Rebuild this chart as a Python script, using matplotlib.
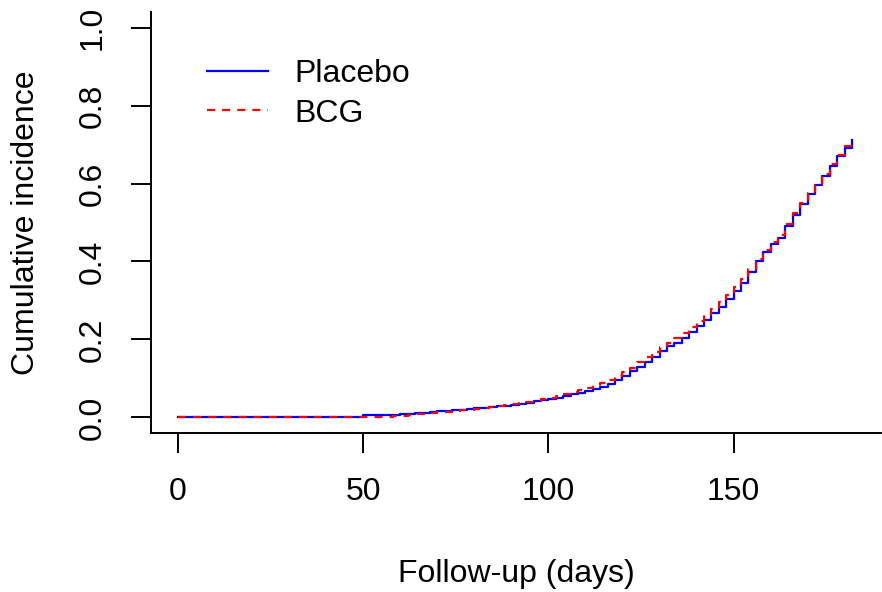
import matplotlib
matplotlib.use("Agg")
import matplotlib.pyplot as plt

# follow-up day at which each cumulative incidence value starts (step function)
days = [0, 50, 52, 54, 56, 58, 60, 62, 64, 66, 68, 70, 72, 74, 76, 78, 80,
        82, 84, 86, 88, 90, 92, 94, 96, 98, 100, 102, 104, 106, 108, 110,
        112, 114, 116, 118, 120, 122, 124, 126, 128, 130, 132, 134, 136,
        138, 140, 142, 144, 146, 148, 150, 152, 154, 156, 158, 160, 162,
        164, 166, 168, 170, 172, 174, 176, 178, 180, 182]

placebo = [0.000, 0.005, 0.005, 0.005, 0.006, 0.007, 0.008, 0.010, 0.011,
           0.012, 0.015, 0.016, 0.017, 0.019, 0.020, 0.021, 0.023, 0.025,
           0.026, 0.028, 0.030, 0.032, 0.035, 0.038, 0.041, 0.044, 0.047,
           0.051, 0.055, 0.059, 0.063, 0.068, 0.073, 0.078, 0.086, 0.095,
           0.106, 0.118, 0.130, 0.143, 0.156, 0.170, 0.182, 0.192, 0.204,
           0.219, 0.235, 0.251, 0.267, 0.284, 0.303, 0.323, 0.345, 0.372,
           0.400, 0.425, 0.445, 0.460, 0.490, 0.520, 0.548, 0.572, 0.595,
           0.620, 0.645, 0.670, 0.692, 0.712]

bcg = [0.000, 0.000, 0.001, 0.001, 0.002, 0.003, 0.004, 0.006, 0.008,
       0.010, 0.011, 0.013, 0.015, 0.017, 0.018, 0.020, 0.022, 0.024,
       0.027, 0.029, 0.031, 0.034, 0.037, 0.040, 0.043, 0.047, 0.051,
       0.055, 0.060, 0.065, 0.070, 0.076, 0.082, 0.089, 0.097, 0.106,
       0.117, 0.128, 0.141, 0.154, 0.167, 0.180, 0.192, 0.203, 0.216,
       0.231, 0.247, 0.262, 0.278, 0.295, 0.314, 0.334, 0.355, 0.380,
       0.407, 0.430, 0.450, 0.468, 0.496, 0.524, 0.551, 0.575, 0.600,
       0.625, 0.650, 0.674, 0.696, 0.715]

xticks = [0, 50, 100, 150]
yticks = [0.0, 0.2, 0.4, 0.6, 0.8, 1.0]

plt.rcParams['font.family'] = ['Liberation Sans', 'DejaVu Sans']
fs = 23

fig = plt.figure(figsize=(8.82, 5.92), dpi=100)
ax = fig.add_axes([151/882, 1 - 433/592, 730/882, 421/592])

ax.step(days, placebo, where='post', color='#0000FF', lw=1.6, label='Placebo')
ax.step(days, bcg, where='post', color='#FF0000', lw=1.6,
        linestyle=(0, (3.6, 3.2)), label='BCG')

# R-like axis ranges (4% padding) and L-shaped box
ax.set_xlim(-7.3, 189.8)
ax.set_ylim(-0.04, 1.04)
ax.spines['top'].set_visible(False)
ax.spines['right'].set_visible(False)
for s in ['left', 'bottom']:
    ax.spines[s].set_linewidth(1.4)

ax.set_xticks(xticks)
ax.set_xticklabels([str(t) for t in xticks])
ax.set_yticks(yticks)
ax.set_yticklabels(['%.1f' % t for t in yticks], rotation=90, va='center')
ax.tick_params(axis='both', length=14.4, width=1.4, pad=17,
               labelsize=fs, colors='black')

ax.set_xlabel('Follow-up (days)', fontsize=fs)
ax.set_ylabel('Cumulative incidence', fontsize=fs)
ax.xaxis.set_label_coords(0.5, -0.30)
ax.yaxis.set_label_coords(-0.15, 0.5)

ax.legend(loc='upper left', bbox_to_anchor=(207/882, 1 - 59/592),
          bbox_transform=fig.transFigure, frameon=False, fontsize=fs,
          handlelength=1.9, handletextpad=0.85, labelspacing=0.3,
          borderpad=0, borderaxespad=0)

fig.savefig('out.png', dpi=100)
